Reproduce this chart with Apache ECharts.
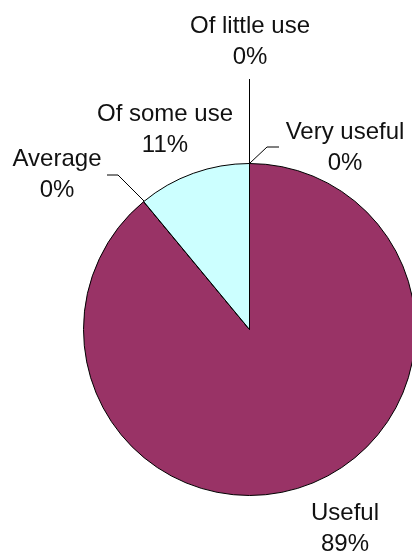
<!DOCTYPE html>
<html>
<head>
<meta charset="utf-8">
<script src="https://cdn.jsdelivr.net/npm/echarts@6/dist/echarts.min.js"></script>
<style>
html,body{margin:0;padding:0;background:#fff;}
#chart{width:412px;height:559px;}
</style>
</head>
<body>
<div id="chart"></div>
<script>
var categories = ['Very useful', 'Useful', 'Average', 'Of some use', 'Of little use'];
var values = [0, 89, 0, 11, 0];
var colors = ['#9999FF', '#993366', '#FFFFCC', '#CCFFFF', '#660066'];

// label centre positions and leader line points (layout only)
var labelPos = [
  {x: 345, y: 148, line: [[250, 163], [267, 147], [279, 147]]},
  {x: 345, y: 529, line: null},
  {x: 57, y: 175, line: [[145, 202], [118, 175], [107, 175]]},
  {x: 165, y: 130, line: null},
  {x: 250, y: 42, line: [[249.5, 163], [249.5, 120], [249.5, 79]]}
];

var chart = echarts.init(document.getElementById('chart'), null, {renderer: 'canvas'});
var data = categories.map(function (c, i) {
  return {
    name: c,
    value: values[i],
    itemStyle: {color: colors[i]},
    labelLine: {show: !!labelPos[i].line}
  };
});

chart.setOption({
  animation: false,
  series: [{
    type: 'pie',
    center: [249.5, 329.5],
    radius: 166,
    startAngle: 90,
    clockwise: true,
    avoidLabelOverlap: false,
    data: data,
    itemStyle: {borderColor: '#000', borderWidth: 1},
    emphasis: {disabled: true},
    label: {
      show: true,
      formatter: function (p) { return p.name + '\n' + Math.round(p.percent) + '%'; },
      fontFamily: 'Liberation Sans',
      fontSize: 24,
      lineHeight: 31,
      color: '#111',
      align: 'center'
    },
    labelLine: {
      show: true,
      lineStyle: {color: '#000', width: 1}
    },
    labelLayout: function (params) {
      var p = labelPos[params.dataIndex];
      var r = {x: p.x, y: p.y, align: 'center', verticalAlign: 'middle'};
      if (p.line) r.labelLinePoints = p.line;
      return r;
    }
  }]
});
</script>
</body>
</html>
